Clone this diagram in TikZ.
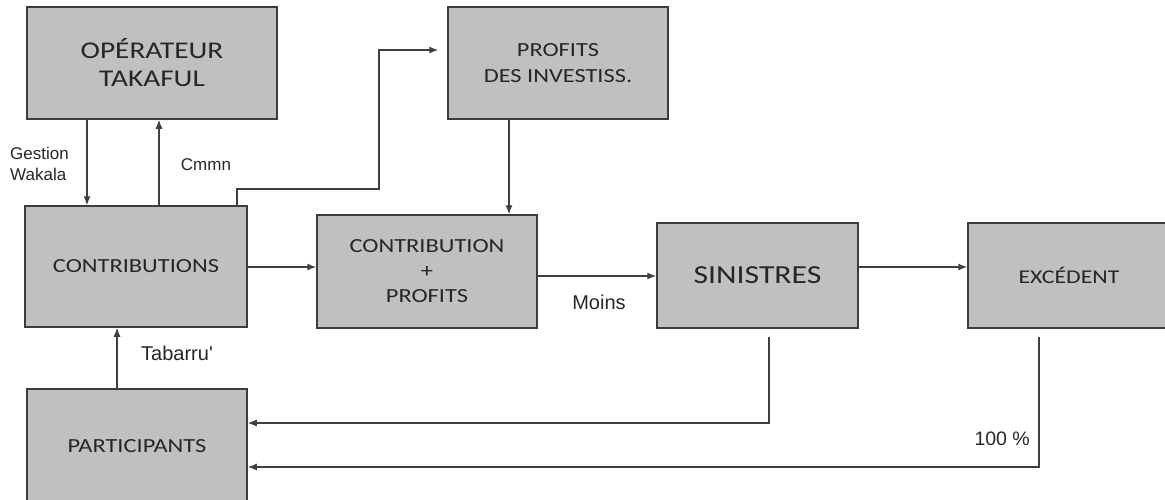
\documentclass[tikz,border=0pt]{standalone}
\usepackage{fontspec}
\setmainfont{Carlito}[FakeStretch=1.22]
\newfontfamily\lblfont{Liberation Sans}
\usetikzlibrary{arrows.meta}
\definecolor{boxgray}{HTML}{C0C0C0}
\definecolor{edgegray}{HTML}{3C3C3C}
\definecolor{txtgray}{HTML}{262626}

\begin{document}
\begin{tikzpicture}[x=1pt,y=-1pt,
  bloc/.style={draw=edgegray, line width=1.5pt, fill=boxgray, rectangle, text=txtgray,
    align=center, inner sep=0pt, font=\fontsize{20}{25}\selectfont},
  lbl/.style={text=txtgray, inner sep=0pt, font=\lblfont\fontsize{17}{21}\selectfont},
  arr/.style={draw=black!75, line width=1.2pt, -{Latex[length=9pt,width=7pt]}}]
\useasboundingbox (0,0) rectangle (1165,499);

\node[bloc, minimum width=250pt, minimum height=112pt, font=\fontsize{24}{28}\selectfont] (op) at (152,63) {OPÉRATEUR\\TAKAFUL};
\node[bloc, minimum width=220pt, minimum height=112pt, font=\fontsize{20}{26}\selectfont] (inv) at (558,63) {PROFITS\\DES INVESTISS.};
\node[bloc, minimum width=222pt, minimum height=121pt] (contr) at (136,266.5) {CONTRIBUTIONS};
\node[bloc, minimum width=220pt, minimum height=113pt] (cp) at (427,271.5) {CONTRIBUTION\\+\\PROFITS};
\node[bloc, minimum width=201pt, minimum height=105pt, font=\fontsize{26}{30}\selectfont] (sin) at (757.5,275.5) {SINISTRES};
\node[bloc, minimum width=202pt, minimum height=105pt, font=\fontsize{19.5}{24}\selectfont] (exc) at (1069,275.5) {EXCÉDENT};
\node[bloc, minimum width=220pt, minimum height=114pt] (part) at (137,446) {PARTICIPANTS};

\draw[arr] (op.south -| 87,0) -- (contr.north -| 87,0);
\draw[arr] (contr.north -| 159,0) -- (op.south -| 159,0);
\draw[arr, shorten >=9pt] (contr.north -| 237,0) |- (379,189) |- (inv.west |- 0,50);
\draw[arr] (inv.south -| 509,0) -- (cp.north -| 509,0);
\draw[arr] (contr.east |- 0,267) -- (cp.west |- 0,267);
\draw[arr] (cp.east |- 0,276) -- (sin.west |- 0,276);
\draw[arr] (sin.east |- 0,267) -- (exc.west |- 0,267);
\draw[arr] (part.north -| 117,0) -- (contr.south -| 117,0);
\draw[arr, shorten <=8pt] (sin.south -| 769,0) |- (part.east |- 0,423);
\draw[arr, shorten <=8pt] (exc.south -| 1039,0) |- (part.east |- 0,467);

\node[lbl, anchor=west, align=left] (gw) at (10,163.5) {Gestion\\Wakala};
\node[lbl] (cm) at (206,165) {Cmmn};
\node[lbl, font=\lblfont\fontsize{20}{24}\selectfont] (tb) at (177,353) {Tabarru'};
\node[lbl, font=\lblfont\fontsize{20}{24}\selectfont] (mo) at (599,302) {Moins};
\node[lbl, anchor=east, font=\lblfont\fontsize{19.5}{23}\selectfont] (pc) at (1030,439) {100 \%};
\end{tikzpicture}
\end{document}
